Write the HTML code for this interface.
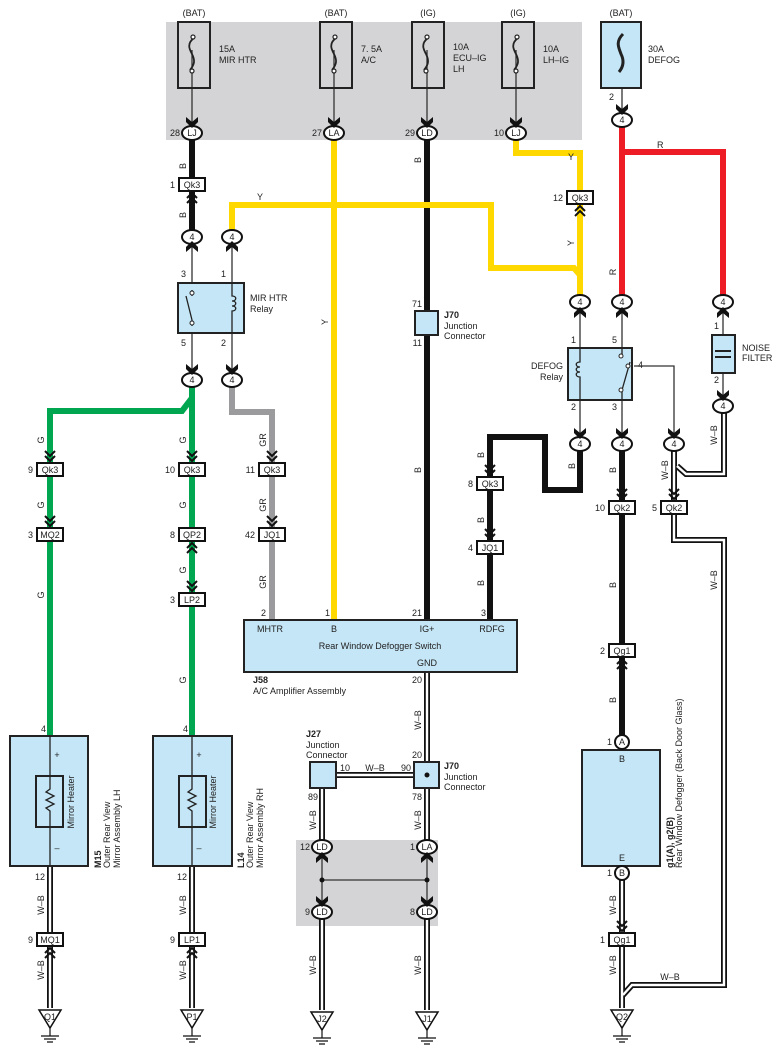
<!DOCTYPE html>
<html><head><meta charset="utf-8"><style>
html,body{margin:0;padding:0;background:#fff}
svg{display:block}
text{font-family:"Liberation Sans",sans-serif;font-size:9px;fill:#222}
.b{font-weight:bold}
.c{text-anchor:middle}
.e{text-anchor:end}
</style></head><body>
<svg width="783" height="1063" viewBox="0 0 783 1063" xmlns="http://www.w3.org/2000/svg">
<defs>
<path id="ch" d="M-6,-7 L0,-2 L6,-7 L6,-2 L0,4 L-6,-2Z" fill="#111"/>
<path id="ch2" d="M-5,-10 L0,-5 L5,-10 M-5,-5 L0,0 L5,-5" fill="none" stroke="#111" stroke-width="2"/>
<path id="ch2u" d="M-5,10 L0,5 L5,10 M-5,5 L0,0 L5,5" fill="none" stroke="#111" stroke-width="2"/>
<g id="gnd"><path d="M-11,0 L11,0 L0,18Z" fill="#fff" stroke="#111" stroke-width="1.5"/><path d="M0,18 V26 M-9,26 H9 M-6,29 H6 M-3,32 H3" stroke="#111" stroke-width="1.2"/></g>
</defs>

<rect x="166" y="22" width="416" height="118" fill="#d4d4d6"/>
<rect x="296" y="840" width="142" height="86" fill="#d4d4d6"/>

<g fill="none" stroke-linejoin="miter">
<path d="M192,140 V236" stroke="#111" stroke-width="6"/>
<path d="M427,140 V620" stroke="#111" stroke-width="6"/>
<path d="M580,444 V490 H545 V437 H490 V620" stroke="#111" stroke-width="6"/>
<path d="M622,444 V742" stroke="#111" stroke-width="6"/>
<path d="M334,140 V620" stroke="#ffd800" stroke-width="6"/>
<path d="M516,140 V153 H580 V302" stroke="#ffd800" stroke-width="6"/>
<path d="M232,236 V205 H491 V268 H574 L580,275" stroke="#ffd800" stroke-width="6"/>
<path d="M622,120 V152 H723 V302" stroke="#ee1c25" stroke-width="6"/>
<path d="M622,152 V302" stroke="#ee1c25" stroke-width="6"/>
<path d="M192,380 V735" stroke="#00a650" stroke-width="6"/>
<path d="M192,398 L182,411 H50 V735" stroke="#00a650" stroke-width="6"/>
<path d="M232,380 V412 H272 V620" stroke="#9b9b9d" stroke-width="6"/>
<g stroke="#111" stroke-width="6">
<path d="M50,865 V1008"/><path d="M192,865 V1008"/>
<path d="M427,672 V847"/><path d="M322,775 V847"/><path d="M322,775 H427"/>
<path d="M322,912 V1010"/><path d="M427,912 V1010"/>
<path d="M622,873 V1008"/>
<path d="M674,444 V540 H724 V985 H632 L623,995"/>
<path d="M724,406 V474 H686 L677,466"/>
</g>
<g stroke="#fff" stroke-width="2.4">
<path d="M50,865 V1008"/><path d="M192,865 V1008"/>
<path d="M427,672 V847"/><path d="M322,775 V847"/><path d="M322,775 H427"/>
<path d="M322,912 V1010"/><path d="M427,912 V1010"/>
<path d="M622,873 V1008"/>
<path d="M674,444 V540 H724 V985 H632 L623,995"/>
<path d="M724,406 V474 H686 L677,466"/>
</g>
<g stroke="#333" stroke-width="1.3">
<path d="M192,50 V125"/><path d="M334,50 V125"/><path d="M427,50 V125"/><path d="M516,50 V125"/>
<path d="M622,88 V112"/>
<path d="M192,244 V372"/><path d="M232,244 V372"/>
<path d="M580,310 V436"/><path d="M622,310 V436"/><path d="M723,310 V398"/>
<path d="M634,366 H674 V436"/>
<path d="M50,735 V865"/><path d="M192,735 V865"/>
<path d="M622,750 V866"/>
<path d="M322,880 H427"/>
<path d="M322,855 V905"/><path d="M427,855 V905"/>
</g>
</g>

<g stroke="#222" stroke-width="2" fill="none">
<rect x="178" y="22" width="32" height="66"/>
<rect x="320" y="22" width="32" height="66"/>
<rect x="412" y="22" width="32" height="66"/>
<rect x="502" y="22" width="32" height="66"/>
<rect x="601" y="22" width="40" height="66" fill="#c5e6f6"/>
</g>
<g fill="none" stroke="#222" stroke-width="1.8">
<path d="M194,38 c-8,6 -4,12 -2,16 c3,6 3,10 -2,16"/>
<path d="M336,38 c-8,6 -4,12 -2,16 c3,6 3,10 -2,16"/>
<path d="M428,38 c-8,6 -4,12 -2,16 c3,6 3,10 -2,16"/>
<path d="M518,38 c-8,6 -4,12 -2,16 c3,6 3,10 -2,16"/>
<path d="M623,34 c-8,8 -4,14 -2,20 c3,6 3,12 -2,18" stroke-width="3"/>
</g>
<g fill="#fff" stroke="#222" stroke-width="1.2">
<circle cx="193" cy="37" r="2"/><circle cx="192" cy="71" r="2"/>
<circle cx="335" cy="37" r="2"/><circle cx="334" cy="71" r="2"/>
<circle cx="427" cy="37" r="2"/><circle cx="426" cy="71" r="2"/>
<circle cx="517" cy="37" r="2"/><circle cx="516" cy="71" r="2"/>
</g>
<text x="194" y="16" class="c">(BAT)</text><text x="336" y="16" class="c">(BAT)</text>
<text x="428" y="16" class="c">(IG)</text><text x="518" y="16" class="c">(IG)</text><text x="621" y="16" class="c">(BAT)</text>
<text x="219" y="52">15A</text><text x="219" y="63">MIR HTR</text>
<text x="361" y="52">7. 5A</text><text x="361" y="63">A/C</text>
<text x="453" y="50">10A</text><text x="453" y="61">ECU–IG</text><text x="453" y="72">LH</text>
<text x="543" y="52">10A</text><text x="543" y="63">LH–IG</text>
<text x="648" y="52">30A</text><text x="648" y="63">DEFOG</text>
<text x="614" y="100" class="e">2</text>

<rect x="178" y="283" width="66" height="50" fill="#c5e6f6" stroke="#222" stroke-width="2"/>
<path d="M192,290 V296 M192,326 V320 M186,296 L192,320" stroke="#222" stroke-width="1.3" fill="none"/>
<path d="M232,283 V296 c5,0 5,5 0,5 c5,0 5,5 0,5 c5,0 5,5 0,5 V333" stroke="#222" stroke-width="1.3" fill="none"/>
<circle cx="192" cy="293" r="2" fill="#fff" stroke="#222"/><circle cx="192" cy="323" r="2" fill="#fff" stroke="#222"/>
<text x="186" y="277" class="e">3</text><text x="226" y="277" class="e">1</text>
<text x="186" y="346" class="e">5</text><text x="226" y="346" class="e">2</text>
<text x="250" y="301">MIR HTR</text><text x="250" y="312">Relay</text>

<rect x="568" y="348" width="64" height="52" fill="#c5e6f6" stroke="#222" stroke-width="2"/>
<path d="M580,348 V362 c-5,0 -5,5 0,5 c-5,0 -5,5 0,5 c-5,0 -5,5 0,5 V400" stroke="#222" stroke-width="1.3" fill="none"/>
<path d="M622,348 V356 M622,400 V390 M622,390 L630,362" stroke="#222" stroke-width="1.3" fill="none"/>
<circle cx="621" cy="356" r="2" fill="#fff" stroke="#222"/><circle cx="621" cy="390" r="2" fill="#fff" stroke="#222"/><circle cx="628" cy="366" r="2" fill="#fff" stroke="#222"/>
<text x="576" y="343" class="e">1</text><text x="617" y="343" class="e">5</text><text x="638" y="368">4</text>
<text x="576" y="410" class="e">2</text><text x="617" y="410" class="e">3</text>
<text x="563" y="369" class="e">DEFOG</text><text x="563" y="380" class="e">Relay</text>

<rect x="712" y="335" width="23" height="38" fill="#c5e6f6" stroke="#222" stroke-width="2"/>
<path d="M715,351 H731 M715,357 H731" stroke="#222" stroke-width="2"/>
<text x="719" y="329" class="e">1</text><text x="719" y="383" class="e">2</text>
<text x="742" y="351">NOISE</text><text x="742" y="361">FILTER</text>

<rect x="415" y="311" width="23" height="24" fill="#c5e6f6" stroke="#222" stroke-width="2"/>
<text x="422" y="307" class="e">71</text><text x="422" y="346" class="e">11</text>
<text x="444" y="318" class="b">J70</text><text x="444" y="329">Junction</text><text x="444" y="339">Connector</text>

<rect x="244" y="620" width="273" height="52" fill="#c5e6f6" stroke="#222" stroke-width="2"/>
<text x="270" y="632" class="c">MHTR</text><text x="334" y="632" class="c">B</text><text x="427" y="632" class="c">IG+</text><text x="492" y="632" class="c">RDFG</text>
<text x="380" y="649" class="c">Rear Window Defogger Switch</text>
<text x="427" y="666" class="c">GND</text>
<text x="266" y="616" class="e">2</text><text x="330" y="616" class="e">1</text><text x="422" y="616" class="e">21</text><text x="486" y="616" class="e">3</text>
<text x="422" y="683" class="e">20</text>
<text x="253" y="683" class="b">J58</text><text x="253" y="694">A/C Amplifier Assembly</text>

<g>
<rect x="10" y="736" width="78" height="130" fill="#c5e6f6" stroke="#222" stroke-width="2"/>
<rect x="36" y="776" width="27" height="51" fill="#c5e6f6" stroke="#222" stroke-width="2"/>
<path d="M50,736 V789 l-4,3 8,4 -8,4 8,4 -8,4 4,3 V866" stroke="#222" stroke-width="1.3" fill="none"/>
<text x="57" y="758" class="c">+</text><text x="57" y="851" class="c">–</text>
<text transform="translate(74,802) rotate(-90)" class="c">Mirror Heater</text>
<text x="46" y="732" class="e">4</text><text x="45" y="880" class="e">12</text>
<text transform="translate(101,868) rotate(-90)" class="b">M15</text>
<text transform="translate(110,868) rotate(-90)">Outer Rear View</text>
<text transform="translate(120,868) rotate(-90)">Mirror Assembly LH</text>
</g>
<g>
<rect x="153" y="736" width="79" height="130" fill="#c5e6f6" stroke="#222" stroke-width="2"/>
<rect x="179" y="776" width="27" height="51" fill="#c5e6f6" stroke="#222" stroke-width="2"/>
<path d="M192,736 V789 l-4,3 8,4 -8,4 8,4 -8,4 4,3 V866" stroke="#222" stroke-width="1.3" fill="none"/>
<text x="199" y="758" class="c">+</text><text x="199" y="851" class="c">–</text>
<text transform="translate(216,802) rotate(-90)" class="c">Mirror Heater</text>
<text x="188" y="732" class="e">4</text><text x="187" y="880" class="e">12</text>
<text transform="translate(244,868) rotate(-90)" class="b">L14</text>
<text transform="translate(253,868) rotate(-90)">Outer Rear View</text>
<text transform="translate(263,868) rotate(-90)">Mirror Assembly RH</text>
</g>

<rect x="582" y="750" width="78" height="116" fill="#c5e6f6" stroke="#222" stroke-width="2"/>
<text x="622" y="762" class="c">B</text><text x="622" y="861" class="c">E</text>
<text transform="translate(673,868) rotate(-90)" class="b">g1(A), g2(B)</text>
<text transform="translate(682,868) rotate(-90)">Rear Window Defogger (Back Door Glass)</text>

<rect x="310" y="762" width="26" height="26" fill="#c5e6f6" stroke="#222" stroke-width="2"/>
<rect x="414" y="762" width="25" height="26" fill="#c5e6f6" stroke="#222" stroke-width="2"/>
<circle cx="427" cy="775" r="2.5" fill="#111"/>
<circle cx="322" cy="880" r="2.5" fill="#111"/><circle cx="427" cy="880" r="2.5" fill="#111"/>
<text x="306" y="737" class="b">J27</text><text x="306" y="748">Junction</text><text x="306" y="758">Connector</text>
<text x="444" y="769" class="b">J70</text><text x="444" y="780">Junction</text><text x="444" y="790">Connector</text>
<text x="340" y="771">10</text><text x="375" y="771" class="c">W–B</text><text x="411" y="771" class="e">90</text>
<text x="422" y="758" class="e">20</text><text x="318" y="800" class="e">89</text><text x="422" y="800" class="e">78</text>

<g font-size="9">
<g fill="#fff" stroke="#111" stroke-width="2">
<ellipse cx="192" cy="133" rx="10" ry="7"/><ellipse cx="334" cy="133" rx="10" ry="7"/><ellipse cx="427" cy="133" rx="10" ry="7"/><ellipse cx="516" cy="133" rx="10" ry="7"/>
<ellipse cx="622" cy="120" rx="10" ry="7"/>
<ellipse cx="192" cy="237" rx="10" ry="7"/><ellipse cx="232" cy="237" rx="10" ry="7"/>
<ellipse cx="192" cy="380" rx="10" ry="7"/><ellipse cx="232" cy="380" rx="10" ry="7"/>
<ellipse cx="580" cy="302" rx="10" ry="7"/><ellipse cx="622" cy="302" rx="10" ry="7"/><ellipse cx="723" cy="302" rx="10" ry="7"/>
<ellipse cx="723" cy="406" rx="10" ry="7"/>
<ellipse cx="580" cy="444" rx="10" ry="7"/><ellipse cx="622" cy="444" rx="10" ry="7"/><ellipse cx="674" cy="444" rx="10" ry="7"/>
<ellipse cx="322" cy="847" rx="10" ry="7"/><ellipse cx="427" cy="847" rx="10" ry="7"/>
<ellipse cx="322" cy="912" rx="10" ry="7"/><ellipse cx="427" cy="912" rx="10" ry="7"/>
<circle cx="622" cy="742" r="7"/><circle cx="622" cy="873" r="7"/>
</g>
<g class="c" text-anchor="middle">
<text x="192" y="136">LJ</text><text x="334" y="136">LA</text><text x="427" y="136">LD</text><text x="516" y="136">LJ</text>
<text x="622" y="123">4</text>
<text x="192" y="240">4</text><text x="232" y="240">4</text><text x="192" y="383">4</text><text x="232" y="383">4</text>
<text x="580" y="305">4</text><text x="622" y="305">4</text><text x="723" y="305">4</text><text x="723" y="409">4</text>
<text x="580" y="447">4</text><text x="622" y="447">4</text><text x="674" y="447">4</text>
<text x="322" y="850">LD</text><text x="427" y="850">LA</text><text x="322" y="915">LD</text><text x="427" y="915">LD</text>
<text x="622" y="745">A</text><text x="622" y="876">B</text>
</g>
<text x="180" y="136" class="e">28</text><text x="322" y="136" class="e">27</text><text x="415" y="136" class="e">29</text><text x="504" y="136" class="e">10</text>
<text x="310" y="850" class="e">12</text><text x="415" y="850" class="e">1</text><text x="310" y="915" class="e">9</text><text x="415" y="915" class="e">8</text>
<text x="612" y="745" class="e">1</text><text x="612" y="876" class="e">1</text>
</g>

<g>
<use href="#ch" x="192" y="124"/><use href="#ch" x="334" y="124"/><use href="#ch" x="427" y="124"/><use href="#ch" x="516" y="124"/>
<use href="#ch" x="622" y="111"/>
<use href="#ch" x="192" y="371"/><use href="#ch" x="232" y="371"/>
<use href="#ch" x="580" y="435"/><use href="#ch" x="622" y="435"/><use href="#ch" x="674" y="435"/><use href="#ch" x="723" y="397"/>
<use href="#ch" x="322" y="903"/><use href="#ch" x="427" y="903"/>
<g transform="translate(192,245) scale(1,-1)"><use href="#ch"/></g>
<g transform="translate(232,245) scale(1,-1)"><use href="#ch"/></g>
<g transform="translate(580,311) scale(1,-1)"><use href="#ch"/></g>
<g transform="translate(622,311) scale(1,-1)"><use href="#ch"/></g>
<g transform="translate(723,311) scale(1,-1)"><use href="#ch"/></g>
<g transform="translate(322,856) scale(1,-1)"><use href="#ch"/></g>
<g transform="translate(427,856) scale(1,-1)"><use href="#ch"/></g>
</g>

<g fill="#fff" stroke="#111" stroke-width="2">
<rect x="179" y="178" width="26" height="13"/><rect x="567" y="191" width="26" height="13"/>
<rect x="37" y="463" width="26" height="13"/><rect x="179" y="463" width="26" height="13"/><rect x="259" y="463" width="26" height="13"/>
<rect x="37" y="528" width="26" height="13"/><rect x="179" y="528" width="26" height="13"/><rect x="259" y="528" width="26" height="13"/>
<rect x="179" y="593" width="26" height="13"/>
<rect x="477" y="477" width="26" height="13"/><rect x="477" y="541" width="26" height="13"/>
<rect x="609" y="501" width="26" height="13"/><rect x="661" y="501" width="26" height="13"/>
<rect x="609" y="644" width="26" height="13"/>
<rect x="37" y="933" width="26" height="13"/><rect x="179" y="933" width="26" height="13"/><rect x="609" y="933" width="26" height="13"/>
</g>
<g text-anchor="middle">
<text x="192" y="188">Qk3</text><text x="580" y="201">Qk3</text>
<text x="50" y="473">Qk3</text><text x="192" y="473">Qk3</text><text x="272" y="473">Qk3</text>
<text x="50" y="538">MQ2</text><text x="192" y="538">QP2</text><text x="272" y="538">JQ1</text>
<text x="192" y="603">LP2</text>
<text x="490" y="487">Qk3</text><text x="490" y="551">JQ1</text>
<text x="622" y="511">Qk2</text><text x="674" y="511">Qk2</text>
<text x="622" y="654">Qg1</text>
<text x="50" y="943">MQ1</text><text x="192" y="943">LP1</text><text x="622" y="943">Qg1</text>
</g>
<g text-anchor="end">
<text x="175" y="188">1</text><text x="563" y="201">12</text>
<text x="33" y="473">9</text><text x="175" y="473">10</text><text x="255" y="473">11</text>
<text x="33" y="538">3</text><text x="175" y="538">8</text><text x="255" y="538">42</text>
<text x="175" y="603">3</text>
<text x="473" y="487">8</text><text x="473" y="551">4</text>
<text x="605" y="511">10</text><text x="657" y="511">5</text>
<text x="605" y="654">2</text>
<text x="33" y="943">9</text><text x="175" y="943">9</text><text x="605" y="943">1</text>
</g>
<g>
<use href="#ch2" x="50" y="461"/><use href="#ch2" x="192" y="461"/><use href="#ch2" x="272" y="461"/>
<use href="#ch2" x="50" y="526"/><use href="#ch2" x="272" y="526"/><use href="#ch2" x="192" y="591"/>
<use href="#ch2" x="490" y="475"/><use href="#ch2" x="490" y="539"/>
<use href="#ch2" x="622" y="499"/><use href="#ch2" x="674" y="499"/>
<use href="#ch2" x="622" y="931"/>
<use href="#ch2u" x="192" y="193"/><use href="#ch2u" x="580" y="206"/><use href="#ch2u" x="192" y="543"/>
<use href="#ch2u" x="622" y="659"/>
<use href="#ch2u" x="50" y="948"/><use href="#ch2u" x="192" y="948"/>
</g>

<use href="#gnd" x="50" y="1010"/><use href="#gnd" x="192" y="1010"/><use href="#gnd" x="322" y="1012"/><use href="#gnd" x="427" y="1012"/><use href="#gnd" x="622" y="1010"/>
<g text-anchor="middle" font-size="8"><text x="50" y="1020">Q1</text><text x="192" y="1020">P1</text><text x="322" y="1022">J2</text><text x="427" y="1022">J1</text><text x="622" y="1020">Q2</text></g>

<g>
<text transform="translate(186,166) rotate(-90)" class="c">B</text>
<text transform="translate(186,215) rotate(-90)" class="c">B</text>
<text x="257" y="200">Y</text>
<text transform="translate(328,322) rotate(-90)" class="c">Y</text>
<text transform="translate(421,160) rotate(-90)" class="c">B</text>
<text transform="translate(421,470) rotate(-90)" class="c">B</text>
<text x="568" y="160">Y</text>
<text transform="translate(574,243) rotate(-90)" class="c">Y</text>
<text x="657" y="148">R</text>
<text transform="translate(616,272) rotate(-90)" class="c">R</text>
<text transform="translate(44,440) rotate(-90)" class="c">G</text>
<text transform="translate(44,505) rotate(-90)" class="c">G</text>
<text transform="translate(44,595) rotate(-90)" class="c">G</text>
<text transform="translate(186,440) rotate(-90)" class="c">G</text>
<text transform="translate(186,505) rotate(-90)" class="c">G</text>
<text transform="translate(186,570) rotate(-90)" class="c">G</text>
<text transform="translate(186,680) rotate(-90)" class="c">G</text>
<text transform="translate(266,440) rotate(-90)" class="c">GR</text>
<text transform="translate(266,505) rotate(-90)" class="c">GR</text>
<text transform="translate(266,582) rotate(-90)" class="c">GR</text>
<text transform="translate(575,466) rotate(-90)" class="c">B</text>
<text transform="translate(484,455) rotate(-90)" class="c">B</text>
<text transform="translate(484,520) rotate(-90)" class="c">B</text>
<text transform="translate(484,583) rotate(-90)" class="c">B</text>
<text transform="translate(616,470) rotate(-90)" class="c">B</text>
<text transform="translate(616,585) rotate(-90)" class="c">B</text>
<text transform="translate(616,700) rotate(-90)" class="c">B</text>
<text transform="translate(668,470) rotate(-90)" class="c">W–B</text>
<text transform="translate(717,435) rotate(-90)" class="c">W–B</text>
<text transform="translate(717,580) rotate(-90)" class="c">W–B</text>
<text x="670" y="980" class="c">W–B</text>
<text transform="translate(616,905) rotate(-90)" class="c">W–B</text>
<text transform="translate(616,965) rotate(-90)" class="c">W–B</text>
<text transform="translate(44,905) rotate(-90)" class="c">W–B</text>
<text transform="translate(44,970) rotate(-90)" class="c">W–B</text>
<text transform="translate(186,905) rotate(-90)" class="c">W–B</text>
<text transform="translate(186,970) rotate(-90)" class="c">W–B</text>
<text transform="translate(421,720) rotate(-90)" class="c">W–B</text>
<text transform="translate(421,820) rotate(-90)" class="c">W–B</text>
<text transform="translate(316,820) rotate(-90)" class="c">W–B</text>
<text transform="translate(316,965) rotate(-90)" class="c">W–B</text>
<text transform="translate(421,965) rotate(-90)" class="c">W–B</text>
</g>
</svg>
</body></html>
